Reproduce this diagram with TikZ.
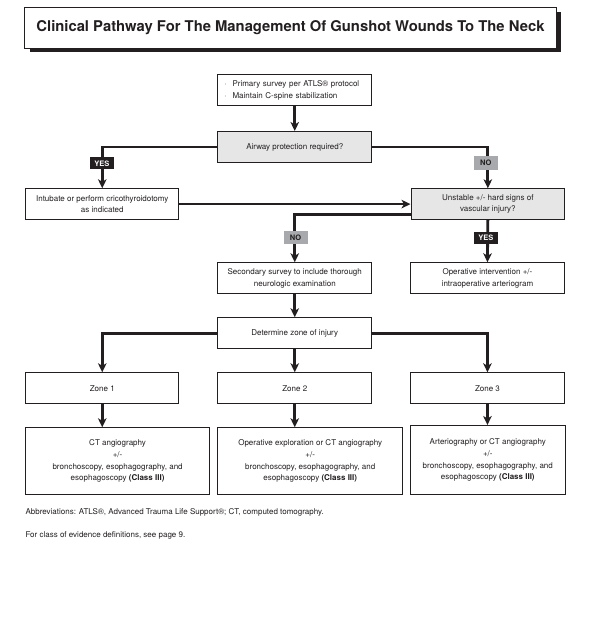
\documentclass[tikz,border=0pt]{standalone}
\usepackage{fontspec}
\setmainfont{TeX Gyre Heros}
\usetikzlibrary{arrows.meta,shadows}
\definecolor{ink}{HTML}{231F20}
\definecolor{boxgray}{HTML}{E6E6E6}
\definecolor{nogray}{HTML}{A7A9AC}
\tikzset{
  box/.style={draw=ink, line width=0.9pt, inner sep=0pt, anchor=north west, align=center, text=ink,
    font=\fontsize{8}{11.6}\selectfont},
  graybox/.style={box, fill=boxgray},
  conn/.style={draw=ink, line width=2.8pt},
  arr/.style={conn, -{Stealth[length=9pt,width=8.5pt,inset=2.5pt]}},
  yeslab/.style={fill=ink, text=white, font=\bfseries\fontsize{7.5}{8}\selectfont,
    minimum width=24pt, minimum height=12pt, inner sep=0pt},
  nolab/.style={fill=nogray, text=ink, font=\bfseries\fontsize{7.5}{8}\selectfont,
    minimum width=24pt, minimum height=13.5pt, inner sep=0pt},
  note/.style={anchor=west, text=ink, inner sep=0pt, font=\fontsize{8}{10}\selectfont},
}
\begin{document}
\begin{tikzpicture}[x=1pt,y=-1pt]
\useasboundingbox[fill=white] (0,0) rectangle (593,644);

% title
\node[draw=ink, line width=0.9pt, fill=white, anchor=north west, inner sep=0pt,
  minimum width=531.5pt, minimum height=40.4pt,
  drop shadow={shadow xshift=5pt, shadow yshift=-4pt, fill=ink, opacity=1},
  font=\bfseries\fontsize{14.8}{16}\selectfont, text=ink]
  (title) at (24.3,7.3) {Clinical Pathway For The Management Of Gunshot Wounds To The Neck};

% boxes
\node[box, align=left, text width=141pt, inner xsep=6.5pt, minimum height=30.7pt]
  (primary) at (217.3,74.3)
  {\makebox[8.3pt][l]{\textperiodcentered}Primary survey per ATLS® protocol\\
   \makebox[8.3pt][l]{\textperiodcentered}Maintain C-spine stabilization};
\node[graybox, minimum width=154pt, minimum height=31pt] (airway) at (217.3,131)
  {Airway protection required?};
\node[box, minimum width=153pt, minimum height=30.7pt] (intubate) at (25.3,188.3)
  {Intubate or perform cricothyroidotomy\\as indicated};
\node[graybox, minimum width=153.8pt, minimum height=30.7pt] (unstable) at (410.5,188.3)
  {Unstable +/- hard signs of\\vascular injury?};
\node[box, minimum width=154pt, minimum height=31pt] (secondary) at (217.3,262.3)
  {Secondary survey to include thorough\\neurologic examination};
\node[box, minimum width=153.4pt, minimum height=31pt] (operative) at (410.3,262.3)
  {Operative intervention +/-\\intraoperative arteriogram};
\node[box, minimum width=154pt, minimum height=31pt] (determine) at (217.3,317.3)
  {Determine zone of injury};
\node[box, minimum width=153pt, minimum height=31pt] (zone1) at (25.3,372.3) {Zone 1};
\node[box, minimum width=154pt, minimum height=31pt] (zone2) at (217.3,372.3) {Zone 2};
\node[box, minimum width=153.4pt, minimum height=31pt] (zone3) at (410.3,372.3) {Zone 3};
\node[box, minimum width=183.7pt, minimum height=67pt] (bot1) at (25.3,427.3)
  {CT angiography\\+/-\\bronchoscopy, esophagography, and\\esophagoscopy \textbf{(Class III)}};
\node[box, minimum width=185pt, minimum height=67pt] (bot2) at (217.3,427.3)
  {Operative exploration or CT angiography\\+/-\\bronchoscopy, esophagography, and\\esophagoscopy \textbf{(Class III)}};
\node[box, minimum width=154.7pt, minimum height=69.3pt] (bot3) at (410,425)
  {Arteriography or CT angiography\\+/-\\bronchoscopy, esophagography, and\\esophagoscopy \textbf{(Class III)}};

% connectors
\draw[arr] (primary.south) -- (airway.north);
\draw[arr] (airway.west) -| (intubate.north);
\draw[arr] (airway.east) -| (unstable.north);
\draw[arr] (intubate.east) -- (unstable.west);
\draw[arr] ([yshift=-10.3pt]unstable.west) -| (secondary.north);
\draw[arr] (unstable.south) -- (operative.north);
\draw[arr] (secondary.south) -- (determine.north);
\draw[arr] (determine.west) -| (zone1.north);
\draw[arr] (determine.south) -- (zone2.north);
\draw[arr] (determine.east) -| (zone3.north);
\draw[arr] (zone1.south) -- (zone1.south |- bot1.north);
\draw[arr] (zone2.south) -- (zone2.south |- bot2.north);
\draw[arr] (zone3.south) -- (zone3.south |- bot3.north);

% labels
\node[yeslab] (yes1) at (101.8,163.5) {YES};
\node[nolab] (no1) at (485.9,163) {NO};
\node[nolab] (no2) at (295.6,237.6) {NO};
\node[yeslab] (yes2) at (485.9,238) {YES};

% notes
\node[note] (abbr) at (25.3,512.5) {Abbreviations: ATLS®, Advanced Trauma Life Support®; CT, computed tomography.};
\node[note] (evid) at (25.3,535) {For class of evidence definitions, see page 9.};
\end{tikzpicture}
\end{document}
